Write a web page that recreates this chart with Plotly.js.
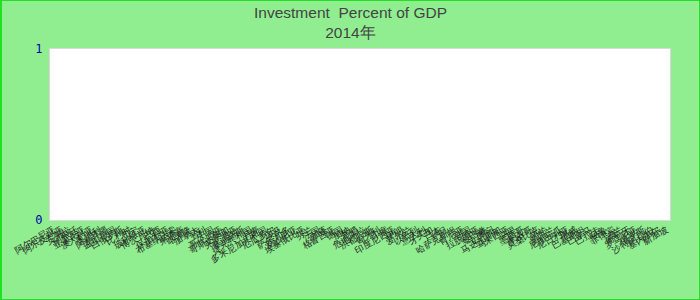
<!DOCTYPE html>
<html>
<head>
<meta charset="utf-8">
<script src="https://cdn.plot.ly/plotly-3.0.1.min.js"></script>
<style>
html,body{margin:0;padding:0;background:#90ee90;}
#chart{width:700px;height:300px;box-sizing:border-box;border:1px solid #22e022;border-left-width:2px;}
</style>
</head>
<body>
<div id="chart"></div>
<script>
var countries = ["阿尔巴尼亚","阿尔及利亚","安哥拉","阿根廷","亚美尼亚","澳大利亚","奥地利","阿塞拜疆","孟加拉国","白俄罗斯",
"比利时","贝宁","玻利维亚","博茨瓦纳","巴西","保加利亚","布基纳法索","柬埔寨","喀麦隆","加拿大",
"智利","中国","哥伦比亚","哥斯达黎加","克罗地亚","塞浦路斯","捷克共和国","丹麦","多米尼加共和国","厄瓜多尔",
"埃及","萨尔瓦多","爱沙尼亚","埃塞俄比亚","芬兰","法国","加蓬","格鲁吉亚","德国","加纳",
"希腊","危地马拉","洪都拉斯","匈牙利","印度","印度尼西亚","伊朗","爱尔兰","以色列","意大利",
"牙买加","日本","约旦","哈萨克斯坦","肯尼亚","韩国","拉脱维亚","黎巴嫩","立陶宛","马达加斯加",
"马来西亚","马里","墨西哥","摩洛哥","莫桑比克","荷兰","新西兰","尼加拉瓜","尼日利亚","挪威",
"巴基斯坦","巴拿马","巴拉圭","秘鲁","菲律宾","波兰","葡萄牙","罗马尼亚","俄罗斯","沙特阿拉伯",
"塞内加尔","新加坡"];
var values = countries.map(function(){ return null; });
var yTicks = [0, 1];

var data = [{
  type: "bar",
  x: countries,
  y: values,
  marker: {color: "#1f77b4"}
}];

var layout = {
  width: 697,
  height: 298,
  paper_bgcolor: "#90ee90",
  plot_bgcolor: "#ffffff",
  margin: {l: 48, r: 29, t: 48, b: 79},
  title: {
    text: "Investment  Percent of GDP<br>2014年",
    font: {family: "Liberation Sans, Arial, sans-serif", size: 15.5, color: "#444444"},
    x: 0.5, xref: "container",
    y: 0.943, yref: "container", yanchor: "middle"
  },
  xaxis: {
    type: "category",
    tickmode: "linear",
    dtick: 1,
    tickangle: -30,
    tickfont: {family: "Liberation Sans, Arial, sans-serif", size: 9, color: "#222222"},
    showgrid: false,
    showline: true,
    mirror: true,
    linecolor: "#d9d9d9",
    linewidth: 1,
    ticks: "",
    automargin: false
  },
  yaxis: {
    range: [0, 1],
    tickvals: yTicks,
    ticktext: yTicks.map(String),
    tickfont: {family: "DejaVu Sans Mono, monospace", size: 12, color: "#0000aa"},
    ticks: "outside",
    ticklen: 4,
    tickcolor: "rgba(0,0,0,0)",
    showgrid: false,
    zeroline: false,
    showline: true,
    mirror: true,
    linecolor: "#d9d9d9",
    linewidth: 1,
    automargin: false
  },
  showlegend: false
};

Plotly.newPlot("chart", data, layout, {displayModeBar: false, staticPlot: true});
</script>
</body>
</html>
